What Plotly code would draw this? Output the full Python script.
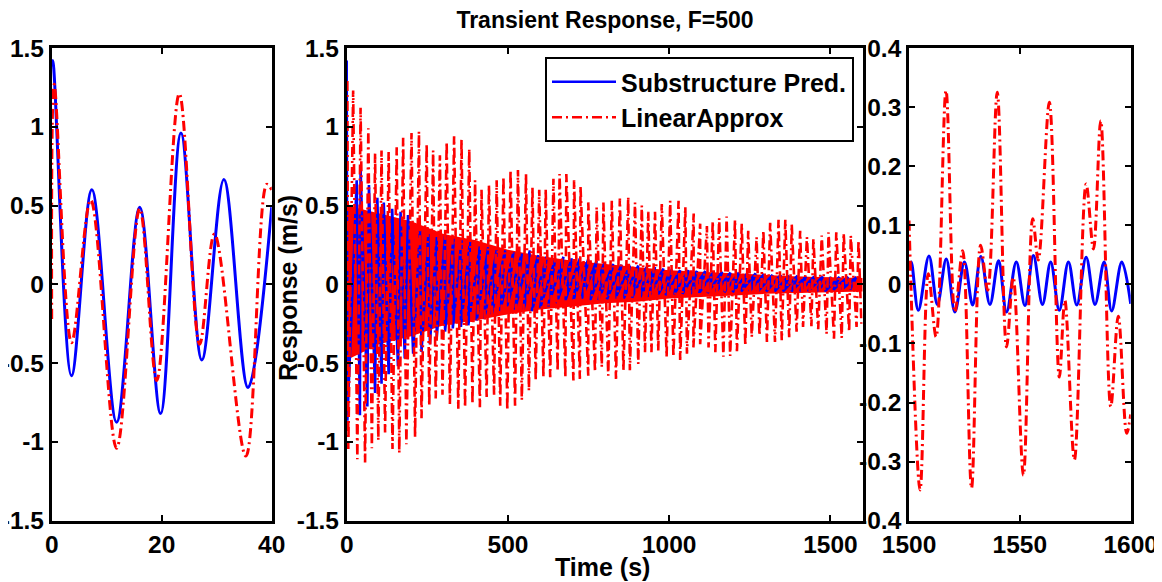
import plotly.graph_objects as go

# ---------------- data ----------------
# Left panel, 0-40 s: extrema of each response
left_blue_t = [0, 0.2, 3.6, 7.3, 11.8, 16.0, 19.8, 23.5, 27.3, 31.3, 35.7, 40]
left_blue = [1.38, 1.42, -0.58, 0.60, -0.875, 0.49, -0.82, 0.96, -0.48, 0.665, -0.655, 0.49]
left_red_t = [0, 0.45, 3.6, 7.1, 11.8, 16.0, 19.1, 23.2, 26.9, 29.6, 35.3, 39.1, 40]
left_red = [-0.22, 1.27, -0.37, 0.535, -1.04, 0.48, -0.61, 1.21, -0.38, 0.32, -1.09, 0.635, 0.60]

# Middle panel, 0-1600 s: visible stroke extremes
red_top_t = [2, 20, 43, 67, 88, 108, 130, 155, 175, 201, 224, 248, 268, 289, 310, 333, 356, 380, 398, 418,
             441, 465, 486, 508, 531, 556, 576, 597, 617, 641, 660, 681, 705, 725, 749, 775, 796, 822, 847, 873,
             894, 915, 935, 956, 977, 1003, 1029, 1050, 1076, 1096, 1117, 1135, 1155, 1178, 1204, 1225, 1245,
             1271, 1292, 1313, 1339, 1360, 1380, 1406, 1427, 1447, 1473, 1494, 1518, 1541, 1563, 1587]
red_top = [1.29, 1.23, 1.12, 0.99, 0.83, 0.85, 0.84, 0.87, 0.93, 0.96, 0.97, 0.89, 0.85, 0.82, 0.905, 0.94, 0.92,
           0.86, 0.66, 0.60, 0.63, 0.66, 0.685, 0.725, 0.725, 0.70, 0.615, 0.60, 0.605, 0.67, 0.70, 0.70, 0.66,
           0.62, 0.52, 0.49, 0.52, 0.53, 0.545, 0.555, 0.52, 0.50, 0.46, 0.46, 0.51, 0.53, 0.53, 0.49, 0.45,
           0.385, 0.37, 0.40, 0.42, 0.43, 0.41, 0.385, 0.34, 0.30, 0.34, 0.39, 0.41, 0.41, 0.38, 0.34, 0.30,
           0.29, 0.31, 0.33, 0.33, 0.325, 0.31, 0.28]
red_bot_t = [5, 33, 57, 78, 98, 119, 142, 163, 185, 212, 232, 256, 276, 297, 320, 346, 367, 390, 413, 434,
             457, 476, 498, 522, 543, 565, 586, 610, 631, 654, 678, 703, 723, 749, 770, 791, 811, 835, 858, 878,
             904, 925, 945, 966, 992, 1013, 1034, 1055, 1075, 1096, 1122, 1143, 1168, 1189, 1210, 1236, 1256,
             1280, 1303, 1328, 1349, 1372, 1395, 1415, 1441, 1462, 1488, 1511, 1535, 1558, 1581, 1596]
red_bot = [-1.045, -1.11, -1.13, -1.04, -0.99, -0.94, -1.045, -1.07, -1.015, -0.97, -0.85, -0.77, -0.725, -0.70,
           -0.76, -0.79, -0.78, -0.76, -0.78, -0.715, -0.70, -0.77, -0.80, -0.77, -0.735, -0.675, -0.61, -0.59,
           -0.59, -0.55, -0.59, -0.61, -0.60, -0.58, -0.555, -0.525, -0.58, -0.60, -0.545, -0.545, -0.505, -0.43,
           -0.43, -0.42, -0.46, -0.46, -0.48, -0.44, -0.40, -0.38, -0.40, -0.43, -0.46, -0.455, -0.425, -0.39,
           -0.335, -0.325, -0.365, -0.365, -0.355, -0.335, -0.30, -0.27, -0.265, -0.285, -0.315, -0.345, -0.34,
           -0.30, -0.27, -0.25]
red_core_t = [0, 100, 200, 300, 400, 500, 600, 700, 800, 900, 1000, 1100, 1200, 1300, 1400, 1500, 1600]
red_core_top = [0.50, 0.45, 0.40, 0.32, 0.28, 0.22, 0.18, 0.15, 0.13, 0.11, 0.09, 0.08, 0.07, 0.06, 0.05, 0.045, 0.04]
red_core_bot = [-0.48, -0.38, -0.33, -0.26, -0.23, -0.19, -0.16, -0.14, -0.12, -0.11, -0.09, -0.08, -0.07, -0.06,
                -0.055, -0.05, -0.045]
blue_top_t = [0, 31, 43, 69, 95, 115, 141, 167, 190, 227, 253, 279, 305, 331, 356, 382, 413, 439, 465, 491,
              517, 543, 568, 594, 620, 646, 672, 698, 723, 749, 775, 800, 826, 852, 878, 904, 930, 956, 982, 1008,
              1034, 1060, 1086, 1112, 1138, 1164, 1190, 1216, 1242, 1268, 1294, 1320, 1346, 1372, 1398, 1424,
              1450, 1476, 1502, 1528, 1554, 1580]
blue_top = [1.42, 0.66, 0.74, 0.63, 0.55, 0.52, 0.48, 0.46, 0.44, 0.34, 0.32, 0.30, 0.31, 0.29, 0.28, 0.27, 0.24,
            0.235, 0.215, 0.215, 0.205, 0.195, 0.215, 0.185, 0.175, 0.155, 0.175, 0.165, 0.165, 0.16, 0.15, 0.14,
            0.13, 0.125, 0.12, 0.12, 0.11, 0.11, 0.10, 0.095, 0.09, 0.09, 0.085, 0.085, 0.08, 0.08, 0.075, 0.075,
            0.07, 0.07, 0.065, 0.06, 0.06, 0.055, 0.055, 0.05, 0.05, 0.05, 0.045, 0.047, 0.049, 0.046]
blue_bot_t = [2, 41, 64, 88, 108, 130, 159, 180, 206, 232, 258, 279, 305, 329, 354, 377, 403, 427, 450, 476,
              497, 522, 548, 574, 600, 625, 651, 677, 703, 729, 755, 781, 807, 833, 859, 885, 911, 937, 963, 989,
              1015, 1041, 1067, 1093, 1119, 1145, 1171, 1197, 1223, 1249, 1275, 1301, 1327, 1353, 1379, 1405,
              1431, 1457, 1483, 1509, 1535, 1561, 1587]
blue_bot = [-0.865, -0.83, -0.775, -0.69, -0.63, -0.57, -0.52, -0.47, -0.44, -0.43, -0.38, -0.34, -0.30, -0.28,
            -0.27, -0.26, -0.23, -0.22, -0.19, -0.17, -0.14, -0.16, -0.16, -0.17, -0.15, -0.14, -0.12, -0.11, -0.10,
            -0.09, -0.10, -0.10, -0.095, -0.09, -0.09, -0.085, -0.08, -0.08, -0.075, -0.07, -0.065, -0.06, -0.06,
            -0.055, -0.055, -0.05, -0.05, -0.05, -0.045, -0.045, -0.045, -0.045, -0.045, -0.045, -0.045, -0.045,
            -0.045, -0.045, -0.045, -0.034, -0.034, -0.034, -0.045]

# Right panel, 1500-1600 s: extrema of each response
right_blue_t = [1500, 1501, 1504.2, 1509, 1512.8, 1516.8, 1520.7, 1525, 1528.7, 1532.4, 1536.5, 1540.4, 1544,
                1548.4, 1552.3, 1556.1, 1560.2, 1563.9, 1567.8, 1571.9, 1575.7, 1579.9, 1583.9, 1588, 1591.4,
                1596, 1600]
right_blue = [0.025, 0.038, -0.044, 0.048, -0.034, 0.043, -0.047, 0.038, -0.035, 0.047, -0.034, 0.040, -0.047,
              0.038, -0.036, 0.049, -0.034, 0.038, -0.044, 0.038, -0.035, 0.046, -0.034, 0.038, -0.045, 0.038,
              -0.033]
right_red_t = [1500, 1505, 1508.7, 1512.2, 1516.7, 1520.7, 1524.2, 1528.2, 1532.3, 1535.5, 1539.8, 1544, 1547,
               1551.6, 1555.8, 1558.3, 1563.3, 1567.8, 1570.3, 1574.6, 1579.9, 1583.2, 1586.5, 1591, 1594.4,
               1598.2, 1600]
right_red = [0.108, -0.348, 0.018, -0.089, 0.328, -0.047, 0.057, -0.345, 0.066, -0.01, 0.325, -0.106, 0.012,
             -0.323, 0.111, 0.041, 0.308, -0.157, -0.027, -0.297, 0.17, 0.06, 0.277, -0.207, -0.054, -0.252, -0.22]

series_names = ["Substructure Pred.", "LinearApprox"]
title_text = "Transient Response, F=500"
x_label = "Time (s)"
y_label = "Response (m/s)"
left_xticks = [0, 20, 40]
mid_xticks = [0, 500, 1000, 1500]
right_xticks = [1500, 1550, 1600]
big_yticks = [-1.5, -1, -0.5, 0, 0.5, 1, 1.5]
big_yticklabels = ["-1.5", "-1", "-0.5", "0", "0.5", "1", "1.5"]
small_yticks = [-0.4, -0.3, -0.2, -0.1, 0, 0.1, 0.2, 0.3, 0.4]
small_yticklabels = ["-0.4", "-0.3", "-0.2", "-0.1", "0", "0.1", "0.2", "0.3", "0.4"]

# ---------------- styling ----------------
OFF = 8                      # page body margin
W, H = 1162 - OFF, 582 - OFF
BLUE = "#0000ff"
RED = "#ff0000"
FONT = "Liberation Sans, Arial, sans-serif"
RED_DASH = "10px,4px,2px,4px"
LW = 3
LW_MID = 2.6


def px(x):
    return (x - OFF) / W


def py(y):
    return 1 - (y - OFF) / H


def zigzag(t1, v1, t2, v2):
    xs, ys = [], []
    for a, b, c, d in zip(t1, v1, t2, v2):
        xs += [a, c]
        ys += [b, d]
    return xs, ys


fig = go.Figure()

# left panel
fig.add_trace(go.Scatter(x=left_blue_t, y=left_blue, mode="lines",
                         line=dict(color=BLUE, width=LW, shape="spline", smoothing=1.0),
                         xaxis="x", yaxis="y", showlegend=False, hoverinfo="skip"))
fig.add_trace(go.Scatter(x=left_red_t, y=left_red, mode="lines",
                         line=dict(color=RED, width=LW, dash=RED_DASH, shape="spline", smoothing=1.0),
                         xaxis="x", yaxis="y", showlegend=False, hoverinfo="skip"))

# middle panel
fig.add_trace(go.Scatter(x=red_core_t + red_core_t[::-1], y=red_core_top + red_core_bot[::-1], mode="lines",
                         fill="toself", fillcolor=RED, line=dict(width=0, color=RED),
                         xaxis="x2", yaxis="y2", showlegend=False, hoverinfo="skip"))
bx, by = zigzag(blue_top_t, blue_top, blue_bot_t, blue_bot)
fig.add_trace(go.Scatter(x=bx, y=by, mode="lines", line=dict(color=BLUE, width=LW_MID),
                         xaxis="x2", yaxis="y2", name=series_names[0], showlegend=True, hoverinfo="skip"))
rx, ry = zigzag(red_top_t, red_top, red_bot_t, red_bot)
fig.add_trace(go.Scatter(x=rx, y=ry, mode="lines", line=dict(color=RED, width=LW_MID, dash=RED_DASH),
                         xaxis="x2", yaxis="y2", name=series_names[1], showlegend=True, hoverinfo="skip"))

# right panel
fig.add_trace(go.Scatter(x=right_blue_t, y=right_blue, mode="lines",
                         line=dict(color=BLUE, width=LW, shape="spline", smoothing=1.0),
                         xaxis="x3", yaxis="y3", showlegend=False, hoverinfo="skip"))
fig.add_trace(go.Scatter(x=right_red_t, y=right_red, mode="lines",
                         line=dict(color=RED, width=LW, dash=RED_DASH, shape="spline", smoothing=1.0),
                         xaxis="x3", yaxis="y3", showlegend=False, hoverinfo="skip"))

tickfont = dict(family=FONT, size=24.5, color="black", weight="bold")


def axstyle(**kw):
    d = dict(showline=True, linecolor="black", linewidth=2.6, mirror="ticks", ticks="inside", ticklen=6,
             tickwidth=2, tickcolor="black", showgrid=False, zeroline=False, tickfont=tickfont,
             automargin=False, tickmode="array")
    d.update(kw)
    return d


ydom = [py(520.7), py(48)]
fig.update_layout(
    width=W, height=H,
    margin=dict(l=0, r=0, t=0, b=0),
    paper_bgcolor="white", plot_bgcolor="white",
    font=dict(family=FONT, color="black"),
    xaxis=axstyle(domain=[px(51.7), px(271.7)], range=[0, 40], tickvals=left_xticks, anchor="y"),
    yaxis=axstyle(domain=ydom, range=[-1.5, 1.5], tickvals=big_yticks, ticktext=big_yticklabels, anchor="x"),
    xaxis2=axstyle(domain=[px(346.7), px(862.7)], range=[0, 1600], tickvals=mid_xticks, anchor="y2"),
    yaxis2=axstyle(domain=ydom, range=[-1.5, 1.5], tickvals=big_yticks, ticktext=big_yticklabels, anchor="x2"),
    xaxis3=axstyle(domain=[px(909), px(1130.7)], range=[1500, 1600], tickvals=right_xticks, anchor="y3"),
    yaxis3=axstyle(domain=ydom, range=[-0.4, 0.4], tickvals=small_yticks, ticktext=small_yticklabels, anchor="x3"),
    title=dict(text=title_text, x=px(605), y=py(20), xanchor="center", yanchor="middle",
               xref="paper", yref="paper",
               font=dict(family=FONT, size=23, color="black", weight="bold")),
    legend=dict(x=px(545), y=py(57), xanchor="left", yanchor="top", bgcolor="white", bordercolor="black",
                borderwidth=2, font=dict(family=FONT, size=25, color="black", weight="bold"), itemwidth=64,
                tracegroupgap=0),
    annotations=[
        dict(text=x_label, x=px(602), y=py(567), xref="paper", yref="paper", xanchor="center", yanchor="middle",
             showarrow=False, font=dict(family=FONT, size=25, color="black", weight="bold")),
        dict(text=y_label, x=px(288), y=py(288), xref="paper", yref="paper", xanchor="center", yanchor="middle",
             textangle=-90, showarrow=False, font=dict(family=FONT, size=25, color="black", weight="bold")),
    ],
)

fig.write_html("out.html")
